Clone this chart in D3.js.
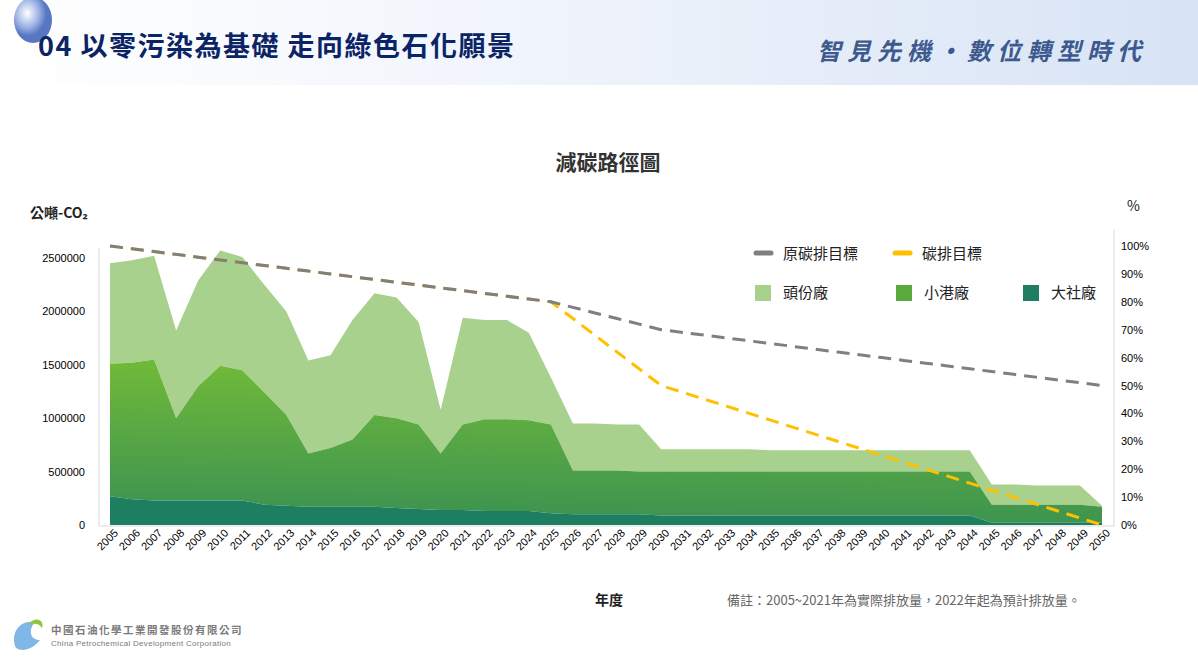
<!DOCTYPE html>
<html><head><meta charset="utf-8">
<script src="https://cdn.jsdelivr.net/npm/d3@7"></script>
<style>body{margin:0;background:#fff;font-family:"Noto Sans CJK TC","Noto Sans",sans-serif}</style>
</head><body><svg id="c" width="1198" height="665"></svg>
<script>
const years = d3.range(2005, 2051);
// cumulative tops (million tonnes)
const dashe = [0.27,0.24,0.23,0.23,0.23,0.23,0.23,0.19,0.18,0.17,0.17,0.17,0.17,0.16,0.15,0.14,0.14,0.13,0.13,0.13,0.11,0.10,0.10,0.10,0.10,0.09,0.09,0.09,0.09,0.09,0.09,0.09,0.09,0.09,0.09,0.09,0.09,0.09,0.09,0.09,0.02,0.02,0.02,0.02,0.02,0.02];
const midTop = [1.51,1.52,1.55,1.00,1.30,1.49,1.45,1.24,1.03,0.67,0.72,0.80,1.03,1.00,0.94,0.67,0.94,0.99,0.99,0.98,0.94,0.51,0.51,0.51,0.50,0.50,0.50,0.50,0.50,0.50,0.50,0.50,0.50,0.50,0.50,0.50,0.50,0.50,0.50,0.50,0.19,0.19,0.19,0.19,0.19,0.17];
const allTop = [2.45,2.48,2.52,1.82,2.29,2.57,2.51,2.25,2.00,1.54,1.59,1.92,2.17,2.13,1.90,1.08,1.94,1.92,1.92,1.80,1.38,0.95,0.95,0.94,0.94,0.71,0.71,0.71,0.71,0.71,0.70,0.70,0.70,0.70,0.70,0.70,0.70,0.70,0.70,0.70,0.38,0.38,0.37,0.37,0.37,0.18];
const dashe_t = dashe.map(v=>v*1e6);
const xiaogang = midTop.map((v,i)=>(v-dashe[i])*1e6);
const toufen = allTop.map((v,i)=>(v-midTop[i])*1e6);
const origTarget = [100,99,98,97,96,95,94,93,92,91,90,89,88,87,86,85,84,83,82,81,80,78,76,74,72,70,69,68,67,66,65,64,63,62,61,60,59,58,57,56,55,54,53,52,51,50];
const newTarget = [100,99,98,97,96,95,94,93,92,91,90,89,88,87,86,85,84,83,82,81,80,74,68,62,56,50,47.5,45,42.5,40,37.5,35,32.5,30,27.5,25,22.5,20,17.5,15,12.5,10,7.5,5,2.5,0];
const leftTicks = [0,500000,1000000,1500000,2000000,2500000];
const rightTicks = [0,10,20,30,40,50,60,70,80,90,100];

const svg = d3.select('#c');
const defs = svg.append('defs');
const hg = defs.append('linearGradient').attr('id','hdr').attr('x1',0).attr('x2',1);
hg.append('stop').attr('offset',0).attr('stop-color','#ffffff');
hg.append('stop').attr('offset',0.5).attr('stop-color','#eef3fb');
hg.append('stop').attr('offset',1).attr('stop-color','#d7e3f5');
const mg = defs.append('linearGradient').attr('id','mid').attr('x1',0.3).attr('y1',0).attr('x2',0.2).attr('y2',1);
mg.append('stop').attr('offset',0).attr('stop-color','#72bb38');
mg.append('stop').attr('offset',1).attr('stop-color','#3a9152');
const bg = defs.append('radialGradient').attr('id','ball').attr('cx',0.35).attr('cy',0.35);
bg.append('stop').attr('offset',0).attr('stop-color','#ffffff');
bg.append('stop').attr('offset',0.6).attr('stop-color','#8fa8e0');
bg.append('stop').attr('offset',1).attr('stop-color','#3b5fb8');

svg.append('rect').attr('width',1198).attr('height',85).attr('fill','url(#hdr)');
svg.append('ellipse').attr('cx',33).attr('cy',20).attr('rx',19).attr('ry',23).attr('fill','url(#ball)').attr('opacity',0.85);
svg.append('text').attr('x',38).attr('y',56).attr('font-size',27).attr('font-weight','bold').attr('letter-spacing',1.5).attr('fill','#0b2466').text('04 以零污染為基礎  走向綠色石化願景');
svg.append('text').attr('x',1147).attr('y',60).attr('text-anchor','end').attr('font-size',24).attr('font-weight','bold').attr('font-style','italic').attr('letter-spacing',6).attr('fill','#3d5a8f').text('智見先機・數位轉型時代');

svg.append('text').attr('x',608).attr('y',170).attr('text-anchor','middle').attr('font-size',21).attr('font-weight','bold').attr('fill','#333').text('減碳路徑圖');

const x = d3.scalePoint().domain(years).range([110,1102]);
const y = d3.scaleLinear().domain([0,2500000]).range([525,258]);
const yr = d3.scaleLinear().domain([0,100]).range([525,246]);

const series = [
  {vals:dashe_t, fill:'#1e7e60'},
  {vals:xiaogang, fill:'url(#mid)'},
  {vals:toufen, fill:'#a9d18e'}];
const rows = years.map((yy,i)=>({year:yy,a:dashe_t[i],b:xiaogang[i],c:toufen[i]}));
const stack = d3.stack().keys(['a','b','c'])(rows);
const area = d3.area().x(d=>x(d.data.year)).y0(d=>y(d[0])).y1(d=>y(d[1]));
stack.slice().reverse().forEach((s,k)=>{
  const idx = 2-k;
  svg.append('path').attr('d',area(s)).attr('fill',series[idx].fill);
});

// axes
svg.append('line').attr('x1',99).attr('x2',1114).attr('y1',526).attr('y2',526).attr('stroke','#d9d9d9');
svg.append('line').attr('x1',99).attr('x2',99).attr('y1',248).attr('y2',526).attr('stroke','#d9d9d9');
svg.append('line').attr('x1',1114).attr('x2',1114).attr('y1',230).attr('y2',526).attr('stroke','#d9d9d9');
const la = svg.append('g').attr('transform','translate(88,0)').call(d3.axisLeft(y).tickValues(leftTicks).tickSize(0).tickFormat(d3.format('d')));
la.select('.domain').remove();
la.selectAll('text').attr('font-size',11).attr('fill','#000').attr('font-family','Liberation Sans, sans-serif');
const ra = svg.append('g').attr('transform','translate(1118,0)').call(d3.axisRight(yr).tickValues(rightTicks).tickSize(0).tickFormat(d=>d+'%'));
ra.select('.domain').remove();
ra.selectAll('text').attr('font-size',11).attr('fill','#000').attr('font-family','Liberation Sans, sans-serif');
const xa = svg.append('g').attr('transform','translate(0,530)').call(d3.axisBottom(x).tickSize(0));
xa.select('.domain').remove();
xa.selectAll('text').attr('font-size',11).attr('fill','#000').attr('font-family','Liberation Sans, sans-serif')
  .attr('text-anchor','end').attr('dx','0.3em').attr('dy','0.5em').attr('transform','rotate(-45)');

// lines
const ln = d3.line().x((d,i)=>x(years[i])).y(d=>yr(d));
svg.append('path').attr('d',ln(newTarget)).attr('fill','none').attr('stroke','#ffc000').attr('stroke-width',3).attr('stroke-dasharray','13,8');
svg.append('path').attr('d',ln(origTarget)).attr('fill','none').attr('stroke','#7f7f7f').attr('stroke-width',3).attr('stroke-dasharray','13,8');

// labels
svg.append('text').attr('x',30).attr('y',218).attr('font-size',14).attr('font-weight','bold').attr('fill','#222').text('公噸-CO₂');
svg.append('text').attr('x',1127).attr('y',211).attr('font-size',14).attr('fill','#222').text('%');
svg.append('text').attr('x',609).attr('y',605).attr('text-anchor','middle').attr('font-size',14).attr('font-weight','bold').attr('fill','#222').text('年度');
svg.append('text').attr('x',727).attr('y',605).attr('font-size',13).attr('fill','#666').text('備註：2005~2021年為實際排放量，2022年起為預計排放量。');

// legend
const lg = svg.append('g').attr('font-size',15).attr('fill','#222');
[[756,'#7f7f7f','原碳排目標'],[895,'#ffc000','碳排目標']].forEach(([lx,c,t])=>{
  lg.append('line').attr('x1',lx).attr('x2',lx+15).attr('y1',253).attr('y2',253).attr('stroke',c).attr('stroke-width',5).attr('stroke-linecap','round');
  lg.append('text').attr('x',lx+27).attr('y',259).text(t);
});
[[755,'#a9d18e','頭份廠'],[896,'#5aaa3f','小港廠'],[1023,'#1e7e60','大社廠']].forEach(([lx,c,t])=>{
  lg.append('rect').attr('x',lx).attr('y',285).attr('width',16).attr('height',16).attr('fill',c);
  lg.append('text').attr('x',lx+28).attr('y',298).text(t);
});

// logo
svg.append('path').attr('d','M16,648 C10,635 18,620 35,622 C28,630 30,640 40,640 C32,650 22,652 16,648 Z').attr('fill','#7fb8e6');
svg.append('path').attr('d','M28,625 C35,615 45,620 42,628 C38,622 32,624 28,625 Z').attr('fill','#8cc63f');
svg.append('text').attr('x',51).attr('y',634).attr('font-size',10.5).attr('font-weight','bold').attr('fill','#7a7a7a').attr('letter-spacing',1.5).text('中國石油化學工業開發股份有限公司');
svg.append('text').attr('x',51).attr('y',646).attr('font-size',8).attr('fill','#7a7a7a').attr('letter-spacing',0.3).attr('font-family','Liberation Sans, sans-serif').text('China Petrochemical Development Corporation');
</script></body></html>
